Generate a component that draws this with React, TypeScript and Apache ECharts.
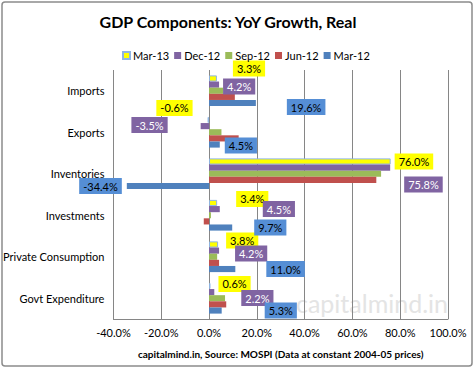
import React, { useEffect, useRef } from "react";
import * as echarts from "echarts";

const categories = ["Imports", "Exports", "Inventories", "Investments", "Private Consumption", "Govt Expenditure"];
const seriesNames = ["Mar-13", "Dec-12", "Sep-12", "Jun-12", "Mar-12"];
const mar13 = [3.3, -0.6, 76.0, 3.4, 3.8, 0.6];
const dec12 = [4.2, -3.5, 75.8, 4.5, 4.2, 2.2];
const sep12 = [5.9, 5.2, 72.0, 0.8, 3.4, 6.7];
const jun12 = [10.8, 12.4, 70.0, -2.2, 4.2, 7.2];
const mar12 = [19.6, 4.5, -34.4, 9.7, 11.0, 5.3];
const xTicks = [-40, -20, 0, 20, 40, 60, 80, 100];

// label placement (layout only): [dx from bar end, dy]
const mar13LabelOffsets = [[16, -10], [15, -12], [4, 0], [19, -4], [8, -4], [8, -2]];
const dec12LabelOffsets = [[4, 2], [33, -1], [14, 17], [43, 0], [16, 3], [27, 6]];
const mar12LabelOffsets = [[31, 4], [5, 1], [5, 0], [22, 0], [31, 0], [43, 0]];

const COLORS = ["#ffff00", "#8064a2", "#9bbb59", "#c0504d", "#4f81bd"];
const FONT = "Lato";

function withLabels(values: number[], offsets: number[][] | null, bg: string, fg: string) {
  return values.map((v, i) => {
    if (!offsets) return v;
    const [dx, dy] = offsets[i];
    const neg = v < 0;
    return {
      value: v,
      label: {
        show: true,
        position: neg ? "left" : "right",
        distance: 0,
        offset: [neg ? -dx : dx, dy],
        formatter: (p: any) => `${Number(p.value).toFixed(1)}%`,
        backgroundColor: bg,
        color: fg,
        padding: [3, 4, 2, 4],
        fontSize: 11,
        fontFamily: FONT,
      },
    };
  });
}

export default function App() {
  const ref = useRef<HTMLDivElement>(null);
  useEffect(() => {
    if (!ref.current) return;
    const chart = echarts.init(ref.current, undefined, { renderer: "svg" });
    const allValues = [mar13, dec12, sep12, jun12, mar12];
    const labelCfg: any[] = [
      [mar13LabelOffsets, "#ffff00", "#000"],
      [dec12LabelOffsets, "#8064a2", "#fff"],
      [null, "", ""],
      [null, "", ""],
      [mar12LabelOffsets, "#558ed5", "#000"],
    ];
    chart.setOption({
      animation: false,
      textStyle: { fontFamily: FONT },
      title: {
        text: "GDP Components: YoY Growth, Real",
        left: 223,
        top: 8,
        textAlign: "center",
        textStyle: { fontFamily: FONT, fontSize: 16, fontWeight: "bold", color: "#000" },
      },
      legend: {
        data: seriesNames,
        left: 117,
        top: 45,
        itemWidth: 7,
        itemHeight: 7,
        itemGap: 5,
        icon: "rect",
        textStyle: { fontFamily: FONT, fontSize: 11, color: "#000", padding: [0, 0, 0, -2] },
      },
      grid: { left: 104, right: 26, top: 70, bottom: 49, containLabel: false },
      xAxis: {
        type: "value",
        min: -40,
        max: 100,
        interval: 20,
        axisLine: { show: true, lineStyle: { color: "#868686" } },
        axisTick: { show: false },
        splitLine: { show: true, lineStyle: { color: "#868686", width: 1 } },
        axisLabel: {
          formatter: (v: number) => (xTicks.includes(v) ? `${v.toFixed(1)}%` : ""),
          fontFamily: FONT,
          fontSize: 11,
          color: "#000",
          margin: 8,
        },
        name: "capitalmind.in, Source: MOSPI (Data at constant 2004-05 prices)",
        nameLocation: "middle",
        nameGap: 30,
        nameTextStyle: { fontFamily: FONT, fontSize: 10, fontWeight: "bold", color: "#000" },
      },
      yAxis: {
        type: "category",
        data: categories,
        inverse: true,
        axisLine: { show: false },
        axisTick: { show: false },
        splitLine: { show: false },
        axisLabel: { fontFamily: FONT, fontSize: 11, color: "#000", margin: 9 },
      },
      graphic: [
        {
          type: "rect",
          shape: { x: 2, y: 2, width: 470, height: 364, r: 3 },
          style: { fill: "none", stroke: "#8c8c8c", lineWidth: 1.5 },
          silent: true,
          z: -10,
        },
        {
          type: "text",
          x: 372,
          y: 303,
          style: {
            text: "capitalmind.in",
            fontFamily: FONT,
            fontSize: 25,
            fill: "#e4e4e4",
            textAlign: "center",
            textVerticalAlign: "middle",
          },
          silent: true,
          z: -5,
        },
      ],
      series: seriesNames.map((name, si) => ({
        name,
        type: "bar",
        barGap: "0%",
        barCategoryGap: "26%",
        itemStyle:
          si === 0
            ? { color: COLORS[si], borderColor: "#8eb4e3", borderWidth: 1 }
            : { color: COLORS[si] },
        data: withLabels(allValues[si], labelCfg[si][0], labelCfg[si][1], labelCfg[si][2]),
      })),
    });
    return () => chart.dispose();
  }, []);
  return <div ref={ref} style={{ position: "fixed", left: 0, top: 0, width: 474, height: 368, background: "#fff" }} />;
}
